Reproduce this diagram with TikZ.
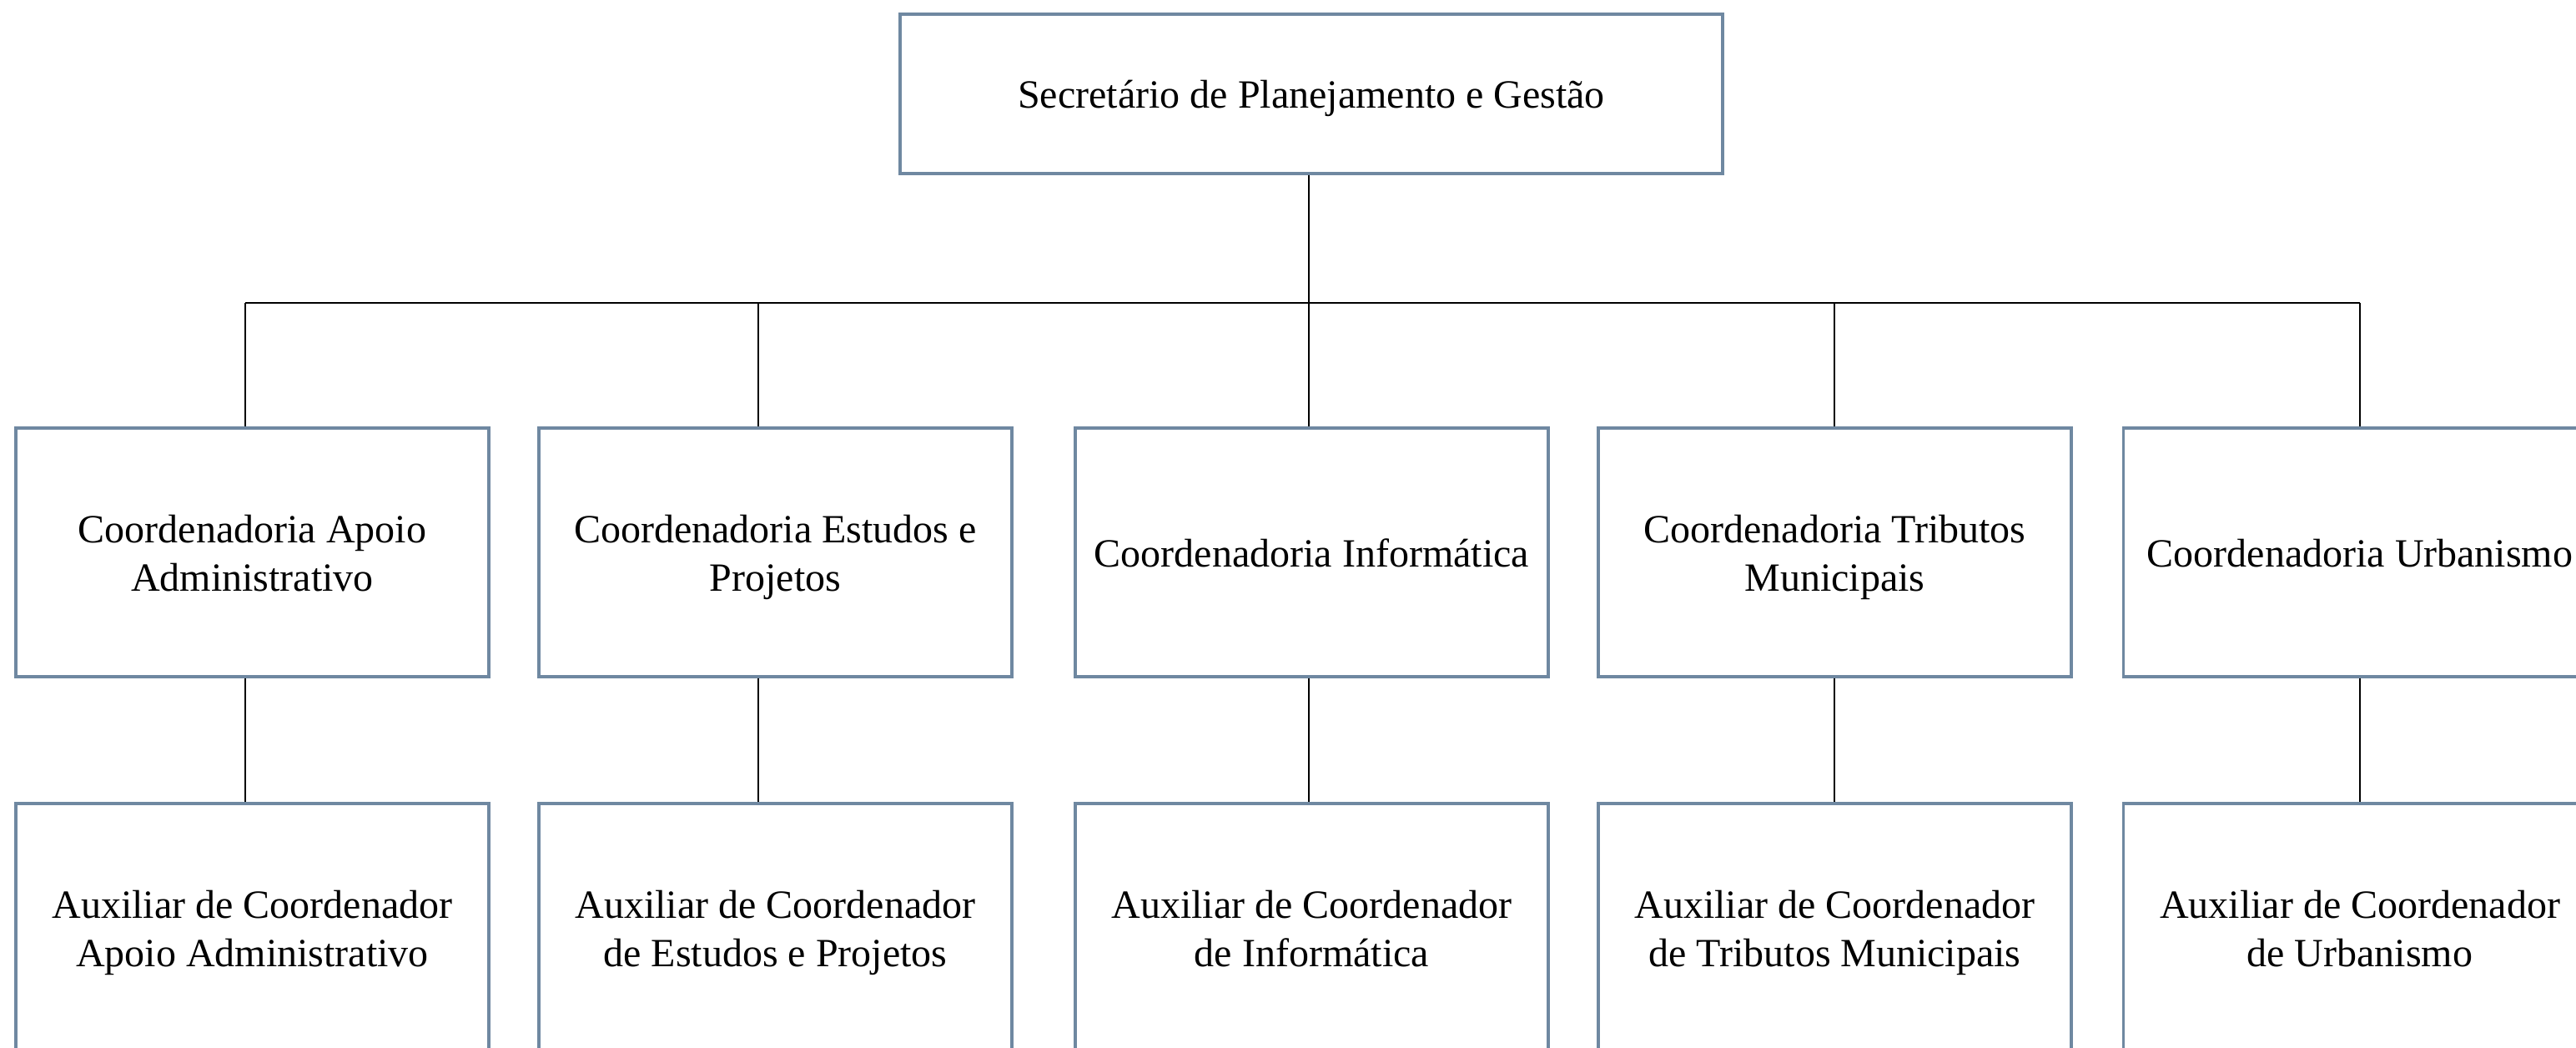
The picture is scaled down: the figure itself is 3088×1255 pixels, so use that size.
\documentclass[tikz,border=0pt]{standalone}
\usepackage{fontspec}
\setmainfont{Liberation Serif}
\definecolor{boxline}{RGB}{111,136,161}
\newcommand\orgtopst{\rule{0pt}{12.95pt}}
\newcommand\orgbotst{\rule[-4.35pt]{0pt}{0pt}}
\begin{document}
\begin{tikzpicture}[x=0.25pt,y=-0.25pt,
  orgbox/.style={draw=boxline, line width=0.8pt, fill=white, align=center,
    minimum width=141.75pt, minimum height=74.5pt, inner sep=0pt,
    font=\fontsize{12pt}{14.5pt}\selectfont},
  link/.style={draw=black, line width=0.5pt}]
\useasboundingbox (0,0) rectangle (3088,1255);
\clip (0,0) rectangle (3088,1255);
\node[orgbox, minimum width=246.5pt, minimum height=47.75pt] (top) at (1572,112.5) {\orgtopst Secretário de Planejamento e Gestão\orgbotst};
\node[orgbox] (c1) at (302.5,662) {\orgtopst Coordenadoria Apoio\\Administrativo\orgbotst};
\node[orgbox] (c2) at (929.5,662) {\orgtopst Coordenadoria Estudos e\\Projetos\orgbotst};
\node[orgbox] (c3) at (1572.5,662) {\orgtopst Coordenadoria Informática\orgbotst};
\node[orgbox] (c4) at (2199.5,662) {\orgtopst Coordenadoria Tributos\\Municipais\orgbotst};
\node[orgbox] (c5) at (2829,662) {\orgtopst Coordenadoria Urbanismo\orgbotst};
\node[orgbox] (a1) at (302.5,1112) {\orgtopst Auxiliar de Coordenador\\Apoio Administrativo\orgbotst};
\node[orgbox] (a2) at (929.5,1112) {\orgtopst Auxiliar de Coordenador\\de Estudos e Projetos\orgbotst};
\node[orgbox] (a3) at (1572.5,1112) {\orgtopst Auxiliar de Coordenador\\de Informática\orgbotst};
\node[orgbox] (a4) at (2199.5,1112) {\orgtopst Auxiliar de Coordenador\\de Tributos Municipais\orgbotst};
\node[orgbox] (a5) at (2829,1112) {\orgtopst Auxiliar de Coordenador\\de Urbanismo\orgbotst};
\coordinate (j1) at (294,363);
\coordinate (j2) at (909,363);
\coordinate (j3) at (1569,363);
\coordinate (j4) at (2199,363);
\coordinate (j5) at (2829,363);
\draw[link] (j1) -- (j5);
\draw[link] (top.south -| j3) -- (j3);
\foreach \i in {1,...,5} {
  \draw[link] (j\i) -- (j\i |- c\i.north);
  \draw[link] (c\i.south -| j\i) -- (a\i.north -| j\i);
}
\end{tikzpicture}
\end{document}
